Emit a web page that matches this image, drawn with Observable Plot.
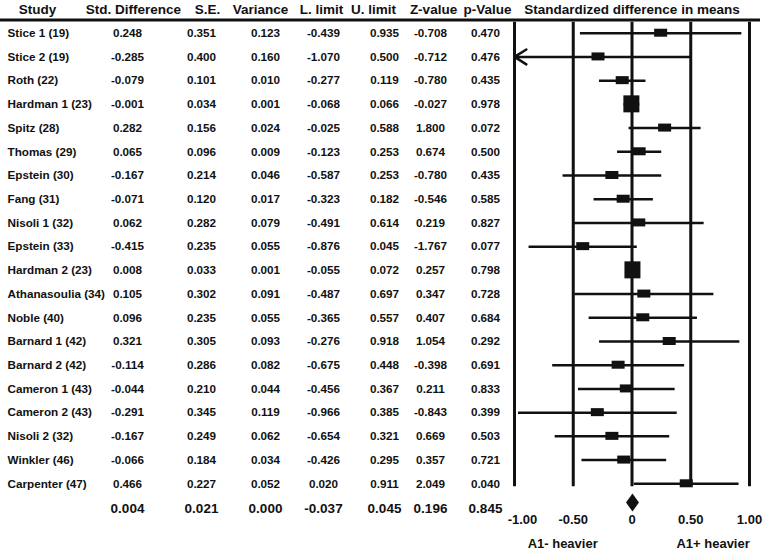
<!DOCTYPE html>
<html><head><meta charset="utf-8">
<script src="https://cdn.jsdelivr.net/npm/d3@7"></script>
<script src="https://cdn.jsdelivr.net/npm/@observablehq/plot@0.6"></script>
<style>body{margin:0;background:#fff}</style>
</head><body><div id="chart"></div>
<script>
// ---- data ----
const studies = ["Stice 1 (19)","Stice 2 (19)","Roth (22)","Hardman 1 (23)","Spitz (28)","Thomas (29)","Epstein (30)","Fang (31)","Nisoli 1 (32)","Epstein (33)","Hardman 2 (23)","Athanasoulia (34)","Noble (40)","Barnard 1 (42)","Barnard 2 (42)","Cameron 1 (43)","Cameron 2 (43)","Nisoli 2 (32)","Winkler (46)","Carpenter (47)"];
const stdDiff  = [0.248,-0.285,-0.079,-0.001,0.282,0.065,-0.167,-0.071,0.062,-0.415,0.008,0.105,0.096,0.321,-0.114,-0.044,-0.291,-0.167,-0.066,0.466];
const stdErr   = [0.351,0.400,0.101,0.034,0.156,0.096,0.214,0.120,0.282,0.235,0.033,0.302,0.235,0.305,0.286,0.210,0.345,0.249,0.184,0.227];
const variance = [0.123,0.160,0.010,0.001,0.024,0.009,0.046,0.017,0.079,0.055,0.001,0.091,0.055,0.093,0.082,0.044,0.119,0.062,0.034,0.052];
const lower    = [-0.439,-1.070,-0.277,-0.068,-0.025,-0.123,-0.587,-0.323,-0.491,-0.876,-0.055,-0.487,-0.365,-0.276,-0.675,-0.456,-0.966,-0.654,-0.426,0.020];
const upper    = [0.935,0.500,0.119,0.066,0.588,0.253,0.253,0.182,0.614,0.045,0.072,0.697,0.557,0.918,0.448,0.367,0.385,0.321,0.295,0.911];
const zValue   = [-0.708,-0.712,-0.780,-0.027,1.800,0.674,-0.780,-0.546,0.219,-1.767,0.257,0.347,0.407,1.054,-0.398,0.211,-0.843,0.669,0.357,2.049];
const pValue   = [0.470,0.476,0.435,0.978,0.072,0.500,0.435,0.585,0.827,0.077,0.798,0.728,0.684,0.292,0.691,0.833,0.399,0.503,0.721,0.040];
const summary  = [0.004,0.021,0.000,-0.037,0.045,0.196,0.845]; // std diff, se, var, lower, upper, z, p
const headers  = ["Study","Std. Difference","S.E.","Variance","L. limit","U. limit","Z-value","p-Value"];
const plotTitle = "Standardized difference in means";
const tickValues = [-1,-0.5,0,0.5,1];
const tickLabels = ["-1.00","-0.50","0","0.50","1.00"];
const sideLabels = ["A1- heavier","A1+ heavier"];

// ---- layout (pixels / offsets) ----
const headerX = [37,133,207,260,321,373,433,487];
const valueX  = [7,127,201,265,323,384,430,485];
const sideX   = [-0.59,0.69];
const FONT = "'Liberation Sans', Arial, Helvetica, sans-serif";

// row index: 0 = header, 1..n = studies, n+1 = pooled summary
const N = studies.length, HEAD = 0, SUM = N + 1;
const rows = studies.map((s,i)=>({row:i+1, study:s, sd:stdDiff[i], se:stdErr[i], v:variance[i], lo:lower[i], hi:upper[i], z:zValue[i], p:pValue[i]}));
const f3 = v => v.toFixed(3);
const keys = ["sd","se","v","lo","hi","z","p"];
const tickFmt = d => tickLabels[tickValues.indexOf(d)];

const diamond = {draw(ctx, size){ const r = Math.sqrt(size/Math.PI); ctx.moveTo(0,-r); ctx.lineTo(r*0.72,0); ctx.lineTo(0,r); ctx.lineTo(-r*0.72,0); ctx.closePath(); }};

const marks = [];
// header texts
headers.forEach((h,i)=>marks.push(Plot.text([h],{y:()=>HEAD, text:d=>d, frameAnchor:"left", dx:headerX[i], textAnchor:"middle", fontSize:13.5, fontWeight:"bold"})));
marks.push(Plot.text([plotTitle],{x:()=>0, y:()=>HEAD, text:d=>d, textAnchor:"middle", fontSize:13.5, fontWeight:"bold"}));
// header rule
marks.push(Plot.ruleY([HEAD],{y:d=>d, dy:10.5, strokeWidth:3, stroke:"#111"}));
// study names
marks.push(Plot.text(rows,{y:"row", text:"study", frameAnchor:"left", dx:valueX[0], textAnchor:"start", fontSize:11.7, fontWeight:"bold"}));
// values
keys.forEach((k,j)=>marks.push(Plot.text(rows,{y:"row", text:d=>f3(d[k]), frameAnchor:"left", dx:valueX[j+1], textAnchor:"middle", fontSize:11.7, fontWeight:"bold"})));
// summary values
summary.forEach((v,j)=>marks.push(Plot.text([v],{y:()=>SUM, text:d=>f3(d), frameAnchor:"left", dx:valueX[j+1], dy:1, textAnchor:"middle", fontSize:13.5, fontWeight:"bold"})));
// vertical reference lines
marks.push(Plot.ruleX(tickValues,{x:d=>d, y1:()=>1, y2:()=>N, insetTop:-11, insetBottom:-3, strokeWidth:3, stroke:"#111"}));
// confidence intervals
marks.push(Plot.ruleY(rows.filter(d=>d.lo>=-1),{y:"row", x1:d=>d.lo, x2:d=>Math.min(d.hi,1), strokeWidth:2.5, stroke:"#111"}));
marks.push(Plot.arrow(rows.filter(d=>d.lo<-1),{x1:d=>Math.min(d.hi,1), x2:()=>-1, y1:"row", y2:"row", strokeWidth:2.5, stroke:"#111", headLength:8.4, headAngle:64}));
// boxes
marks.push(Plot.rect(rows.filter(d=>d.se>=0.05),{x1:"sd", x2:"sd", y1:"row", y2:"row", insetLeft:-6.5, insetRight:-6.5, insetTop:-4, insetBottom:-4, fill:"#111"}));
marks.push(Plot.rect(rows.filter(d=>d.se<0.05),{x1:"sd", x2:"sd", y1:"row", y2:"row", insetLeft:-8, insetRight:-8, insetTop:-8.5, insetBottom:-8.5, fill:"#111"}));
// summary diamond
marks.push(Plot.dot([summary[0]],{x:d=>d, y:()=>SUM, dy:-5, r:9, symbol:diamond, fill:"#111", stroke:"none"}));
// axis (first label nudged right as in the original)
marks.push(Plot.axisX(tickValues.slice(0,1),{tickFormat:tickFmt, tickSize:0, tickPadding:7, dx:8, fontSize:13, fontWeight:"bold", label:null}));
marks.push(Plot.axisX(tickValues.slice(1),{tickFormat:tickFmt, tickSize:0, tickPadding:7, dx:0, fontSize:13, fontWeight:"bold", label:null}));
// side labels
marks.push(Plot.text(sideLabels,{x:(d,i)=>sideX[i], y:()=>SUM, dy:36, text:d=>d, fontSize:13, fontWeight:"bold", textAnchor:"middle"}));

const chart = Plot.plot({
  width:763, height:552,
  marginTop:9, marginBottom:45, marginLeft:0, marginRight:3,
  style:{fontFamily:FONT, color:"#111", background:"#fff"},
  x:{domain:[-1,1], range:[514,749]},
  y:{type:"linear", domain:[HEAD, SUM], range:[9,507], axis:null},
  marks
});
document.getElementById("chart").appendChild(chart);
</script>
</body></html>
